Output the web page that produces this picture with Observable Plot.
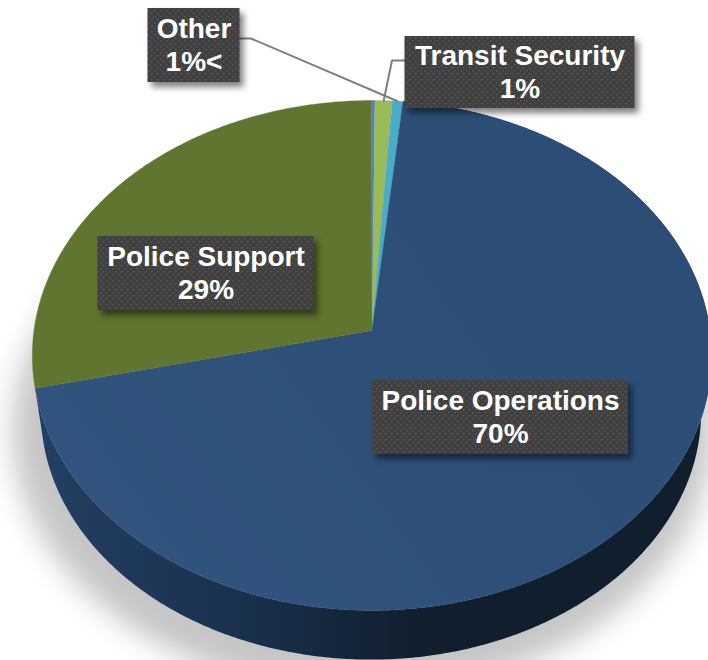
<!DOCTYPE html>
<html>
<head>
<meta charset="utf-8">
<script src="https://cdn.jsdelivr.net/npm/d3@7"></script>
<script src="https://cdn.jsdelivr.net/npm/@observablehq/plot@0.6"></script>
<style>html,body{margin:0;padding:0;background:#fff;overflow:hidden}svg{display:block}</style>
</head>
<body>
<div id="chart"></div>
<script>
// Data, clockwise from 12 o'clock
const categories = ["Unlabelled sliver", "Transit Security", "Other", "Police Operations", "Police Support"];
const shares = [0.2, 0.9, 0.55, 69.8, 28.55];
const sliceColors = ["#4f81bd", "#9bbb59", "#4bacc6", "url(#topNavy)", "#5f7530"];
const labelled = ["Other", "Transit Security", "Police Support", "Police Operations"];
const labelPercents = ["1%<", "1%", "29%", "70%"];

// Layout: label centre and half size, relative to the pie centre
const labelCx = [-178, 148, -166, 128.5];
const labelCy = [-285, -258, -57, 87];
const labelHalfW = [46, 115, 108, 128];
const labelHalfH = [37, 36, 37, 37];
const leaderElbowX = [-121, 20];
const leaderElbowY = [-292, -270];

const width = 708, height = 660;
const cx = 371.5, cy = 330, A = 338, B = 252.5, k = -0.098;
const startAngle = -0.003;

// Tilted disc: maps an angle clockwise from top and a radius to the picture plane
function project(angle, r = 1, face = "top") {
  const u = r * Math.sin(angle), v = -r * Math.cos(angle), w = 1 + k * v;
  if (face === "top") return [cx + A * u / w, cy + B * v / w];
  const s = 0.972;
  return [cx - 1 + s * A * u / w, cy + 57 + s * B * v / w];
}

const arcs = d3.pie().sort(null).startAngle(startAngle).endAngle(startAngle + 2 * Math.PI)(shares);
const arcPts = (a0, a1, face) => {
  const n = Math.max(2, Math.ceil((a1 - a0) / 0.01));
  return d3.range(n + 1).map(i => project(a0 + (a1 - a0) * i / n, 1, face));
};
const slicePolys = arcs.map(a => [project(0, 0), ...arcPts(a.startAngle, a.endAngle, "top")].map(([x, y]) => ({x, y})));

const opsArc = arcs[categories.indexOf("Police Operations")];
const wallPoly = [...arcPts(opsArc.startAngle, opsArc.endAngle, "top"),
                  ...arcPts(opsArc.startAngle, opsArc.endAngle, "bottom").reverse()].map(([x, y]) => ({x, y}));
const shadowPoly = d3.range(0, 2 * Math.PI, 0.02).map(t => ({x: 362 + 350 * Math.sin(t), y: 430 + 262 * Math.cos(t)}));

const labels = labelled.map((name, i) => ({
  text: name + "\n" + labelPercents[i],
  x: cx + labelCx[i], y: cy + labelCy[i], hw: labelHalfW[i], hh: labelHalfH[i]
}));

const rimPoint = name => {
  const a = arcs[categories.indexOf(name)];
  return project((a.startAngle + a.endAngle) / 2);
};
const leader = (name, i) => {
  const l = labels[labelled.indexOf(name)];
  const box = i === 0 ? l.x + l.hw : l.x - l.hw;
  const yy = cy + leaderElbowY[i];
  const [rx, ry] = rimPoint(name);
  return [[box, yy], [cx + leaderElbowX[i], yy], [rx, ry]].map(([x, y]) => ({x, y}));
};

const chart = Plot.plot({
  width, height,
  margin: 0,
  x: {domain: [0, width], range: [0, width], axis: null},
  y: {domain: [0, height], range: [0, height], axis: null},
  marks: [
    Plot.line(shadowPoly, {x: "x", y: "y", fill: "#c6c6c6", stroke: "none", imageFilter: "blur(14px)"}),
    Plot.line(wallPoly, {x: "x", y: "y", fill: "url(#wall)", stroke: "none"}),
    slicePolys.map((poly, i) => Plot.line(poly, {x: "x", y: "y", fill: sliceColors[i], stroke: sliceColors[i], strokeWidth: 0.4})),
    Plot.line(leader("Other", 0), {x: "x", y: "y", stroke: "#7f7f7f", strokeWidth: 2}),
    Plot.line(leader("Transit Security", 1), {x: "x", y: "y", stroke: "#7f7f7f", strokeWidth: 2}),
    Plot.rect(labels, {
      x1: d => d.x - d.hw, x2: d => d.x + d.hw, y1: d => d.y - d.hh, y2: d => d.y + d.hh,
      fill: "url(#dots)", imageFilter: "drop-shadow(4px 5px 3px rgba(0,0,0,0.5))"
    }),
    Plot.text(labels, {
      x: "x", y: "y", dy: -2, text: "text", fill: "#fff", fontSize: 28, fontWeight: 700,
      lineHeight: 1.18, fontFamily: "'Liberation Sans', Arial, sans-serif"
    })
  ]
});

const defs = d3.select(chart).insert("defs", ":first-child");
defs.html(`
  <linearGradient id="wall" gradientUnits="userSpaceOnUse" x1="40" y1="0" x2="420" y2="0">
    <stop offset="0" stop-color="#233f63"/><stop offset="0.55" stop-color="#19304d"/><stop offset="1" stop-color="#111e2d"/>
  </linearGradient>
  <linearGradient id="topNavy" gradientUnits="userSpaceOnUse" x1="40" y1="560" x2="620" y2="140">
    <stop offset="0" stop-color="#325580"/><stop offset="0.5" stop-color="#2e5078"/><stop offset="1" stop-color="#2c4d75"/>
  </linearGradient>
  <pattern id="dots" patternUnits="userSpaceOnUse" width="6" height="6">
    <rect width="6" height="6" fill="#404040"/>
    <rect x="1" y="1" width="1.5" height="1.5" fill="#5c5c5c"/>
    <rect x="4" y="4" width="1.5" height="1.5" fill="#565656"/>
  </pattern>`);
document.getElementById("chart").append(chart);
</script>
</body>
</html>
